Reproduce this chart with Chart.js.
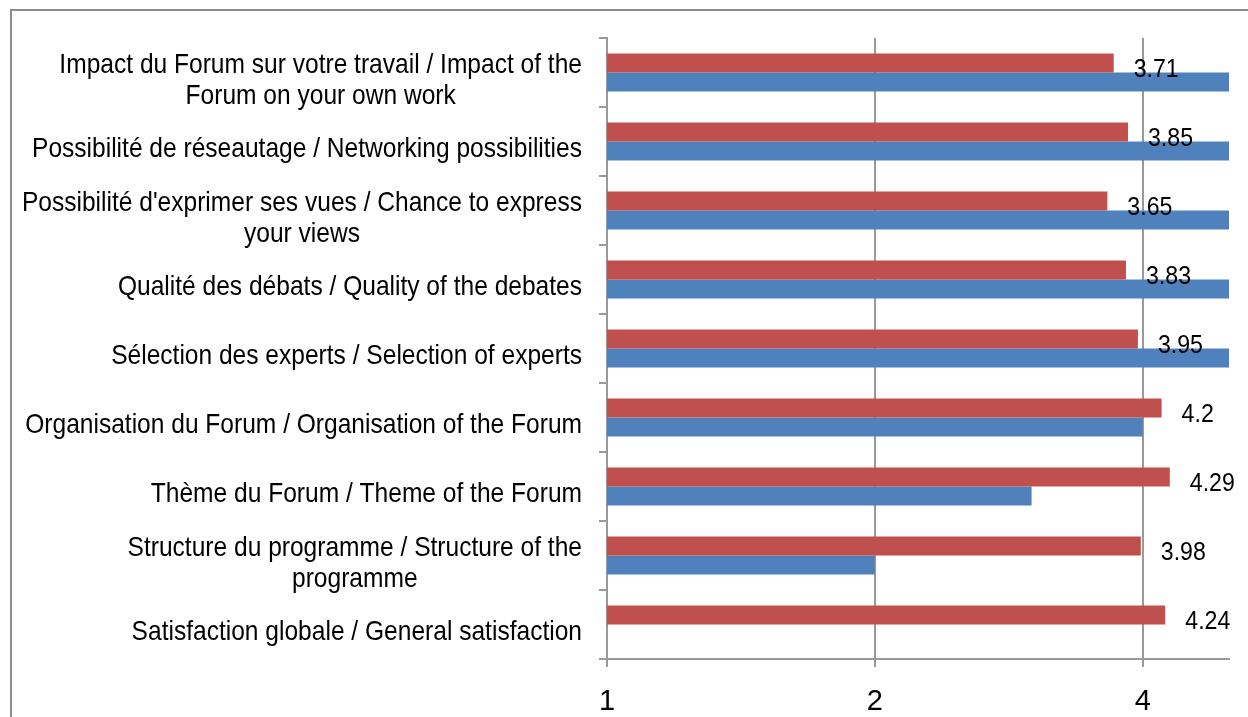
<!DOCTYPE html>
<html>
<head>
<meta charset="utf-8">
<script src="https://cdn.jsdelivr.net/npm/chart.js@4.4.1/dist/chart.umd.min.js"></script>
<style>
  html, body { margin: 0; padding: 0; background: #fff; overflow: hidden; }
  #frame { position: absolute; left: 10px; top: 9px; width: 1300px; height: 800px;
           border-top: 2px solid #8c8c8c; border-left: 2px solid #8c8c8c; }
  #wrap { position: absolute; left: 0; top: 0; width: 1248px; height: 717px; }
</style>
</head>
<body>
<div id="frame"></div>
<div id="wrap"><canvas id="ratingChart"></canvas></div>
<script>
// categories, top to bottom (each entry = wrapped lines)
const categories = [
    ['Impact du Forum sur votre travail / Impact of the', 'Forum on your own work'],
    ['Possibilité de réseautage / Networking possibilities'],
    ["Possibilité d'exprimer ses vues / Chance to express", 'your views'],
    ['Qualité des débats / Quality of the debates'],
    ['Sélection des experts / Selection of experts'],
    ['Organisation du Forum / Organisation of the Forum'],
    ['Thème du Forum / Theme of the Forum'],
    ['Structure du programme / Structure of the', 'programme'],
    ['Satisfaction globale / General satisfaction']
];
const redValues = [3.71, 3.85, 3.65, 3.83, 3.95, 4.2, 4.29, 3.98, 4.24];
const blueValues = [5, 5, 5, 5, 5, 4, 3, 2, 1];
const xTicks = [1, 2, 4];

const FONT = "'Liberation Sans', Arial, sans-serif";
const GRID = '#999999';

// text squeezed horizontally (the original font is a narrow one)
function squeezed(ctx, text, x, y, sx) {
    ctx.save();
    ctx.translate(x, y);
    ctx.scale(sx, 1);
    ctx.fillText(text, 0, 0);
    ctx.restore();
}

// category labels: block right-aligned, lines centred (like Excel wrap)
const categoryLabels = {
    id: 'categoryLabels',
    afterDraw(chart) {
        const ctx = chart.ctx;
        const yScale = chart.scales.y;
        const right = yScale.right - 25;
        const lineH = 31;
        ctx.save();
        ctx.font = '28px ' + FONT;
        ctx.fillStyle = '#000';
        ctx.textAlign = 'center';
        ctx.textBaseline = 'alphabetic';
        const sx = 550 / ctx.measureText(categories[1][0]).width;
        categories.forEach((lines, i) => {
            const y = yScale.getPixelForTick(i);
            const w = Math.max(...lines.map(l => ctx.measureText(l).width)) * sx;
            const cx = right - w / 2;
            const y0 = y + 15.5 - (lines.length - 1) * lineH / 2;
            lines.forEach((l, k) => squeezed(ctx, l, cx, y0 + k * lineH, sx));
        });
        ctx.restore();
    }
};

// value labels after the red bars
const valueLabels = {
    id: 'valueLabels',
    afterDraw(chart) {
        const ctx = chart.ctx;
        const meta = chart.getDatasetMeta(0);
        ctx.save();
        ctx.font = '26px ' + FONT;
        ctx.fillStyle = '#000';
        ctx.textAlign = 'left';
        ctx.textBaseline = 'alphabetic';
        meta.data.forEach((bar, i) => {
            squeezed(ctx, String(redValues[i]), bar.x + 20, bar.y + 13.5, 0.89);
        });
        ctx.restore();
    }
};

const ctx = document.getElementById('ratingChart').getContext('2d');
new Chart(ctx, {
    type: 'bar',
    data: {
        labels: categories.map(l => l.join(' ')),
        datasets: [{
            data: redValues,
            backgroundColor: '#C0504D',
            categoryPercentage: 0.55,
            barPercentage: 1.0
        }, {
            data: blueValues,
            backgroundColor: '#4F81BD',
            categoryPercentage: 0.55,
            barPercentage: 1.0
        }]
    },
    options: {
        indexAxis: 'y',
        responsive: true,
        maintainAspectRatio: false,
        animation: false,
        layout: { padding: { top: 38, right: 19, left: 0, bottom: 0 } },
        plugins: { legend: { display: false }, tooltip: { enabled: false } },
        scales: {
            x: {
                type: 'logarithmic',
                position: 'bottom',
                min: 1,
                max: 5,
                afterBuildTicks: s => { s.ticks = xTicks.map(v => ({ value: v })); },
                afterFit: s => { s.height = 58; },
                ticks: {
                    callback: v => String(v),
                    color: '#000',
                    font: { family: FONT, size: 29 },
                    padding: 18,
                    maxRotation: 0
                },
                grid: { color: GRID, lineWidth: 2, tickLength: 8 },
                border: { color: GRID, width: 2 }
            },
            y: {
                type: 'category',
                offset: true,
                afterFit: s => { s.width = 607; },
                ticks: { display: false },
                grid: { offset: true, drawOnChartArea: false, color: GRID, lineWidth: 2, tickLength: 8 },
                border: { color: GRID, width: 2 }
            }
        }
    },
    plugins: [categoryLabels, valueLabels]
});
</script>
</body>
</html>
